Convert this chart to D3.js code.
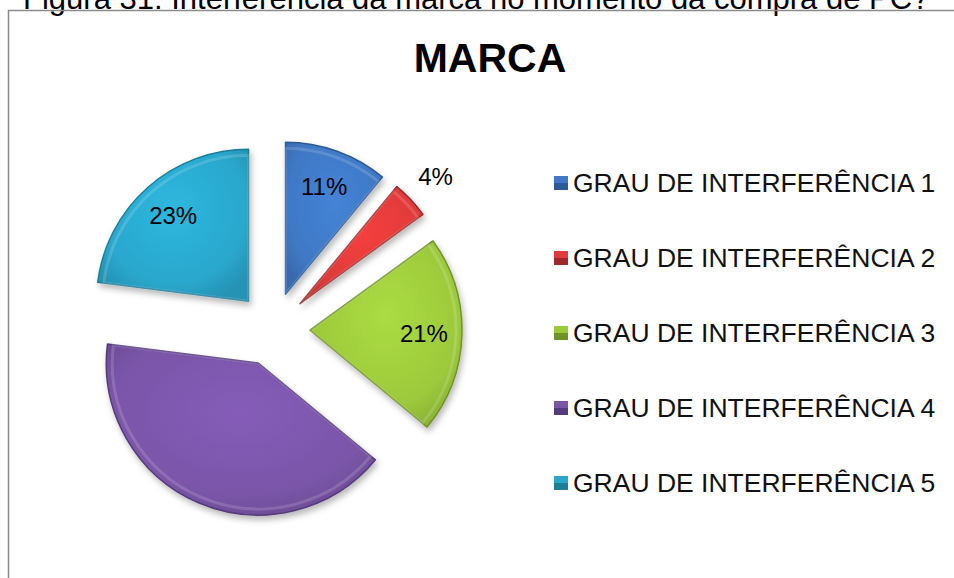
<!DOCTYPE html>
<html lang="pt">
<head>
    <meta charset="UTF-8">
    <title>MARCA</title>
    <style>
        body { margin: 0; background: #fff; }
        text { font-family: "Liberation Sans", Arial, sans-serif; }
    </style>
</head>
<body>
    <script src="https://d3js.org/d3.v7.min.js"></script>
    <script>
        // dados
        let categories = ["GRAU DE INTERFERÊNCIA 1", "GRAU DE INTERFERÊNCIA 2", "GRAU DE INTERFERÊNCIA 3",
                          "GRAU DE INTERFERÊNCIA 4", "GRAU DE INTERFERÊNCIA 5"];
        let values = [11, 4, 21, 41, 23];
        let labels = ["11%", "4%", "21%", "", "23%"];
        let colors = ["#3f78c4", "#e03a3a", "#9cc93c", "#7a55a8", "#2aa7cc"];
        let edgeColors = ["#2d5a96", "#9c2a2a", "#6f9226", "#553a7c", "#1d7d9a"];

        let width = 954, height = 578;
        let cx = 273, cy = 329, radius = 152, explode = 37;

        let svg = d3.select("body").append("svg")
            .attr("width", width)
            .attr("height", height);

        let defs = svg.append("defs");

        let shadow = defs.append("filter").attr("id", "shadow")
            .attr("x", "-20%").attr("y", "-20%").attr("width", "140%").attr("height", "140%");
        shadow.append("feDropShadow")
            .attr("dx", 2).attr("dy", 4).attr("stdDeviation", 3)
            .attr("flood-color", "#000").attr("flood-opacity", 0.28);

        colors.forEach(function(c, i){
            let g = defs.append("radialGradient").attr("id", "grad" + i)
                .attr("cx", "50%").attr("cy", "40%").attr("r", "65%");
            g.append("stop").attr("offset", "0%").attr("stop-color", d3.color(c).brighter(0.25));
            g.append("stop").attr("offset", "75%").attr("stop-color", c);
            g.append("stop").attr("offset", "100%").attr("stop-color", d3.color(c).darker(0.35));
        });

        // caption above the frame (cut off at the top, as in the original page)
        svg.append("text")
            .attr("x", 23).attr("y", 9)
            .attr("font-size", 31)
            .attr("fill", "#000")
            .text("Figura 31: Interferência da marca no momento da compra de PC?");

        // frame
        svg.append("rect")
            .attr("x", 8.5).attr("y", 10.5)
            .attr("width", 1000).attr("height", 1000)
            .attr("fill", "none")
            .attr("stroke", "#8c8c8c")
            .attr("stroke-width", 1.5);

        svg.append("text")
            .attr("x", 490).attr("y", 72)
            .attr("text-anchor", "middle")
            .attr("font-size", 41)
            .attr("font-weight", "bold")
            .text("MARCA");

        let pie = d3.pie().sort(null).value(function(d){ return d; });
        let arcs = pie(values);
        let arc = d3.arc().innerRadius(0).outerRadius(radius);

        function offset(d, dist){
            let a = (d.startAngle + d.endAngle) / 2;
            return [Math.sin(a) * dist, -Math.cos(a) * dist];
        }

        let pieG = svg.append("g").attr("transform", "translate(" + cx + "," + cy + ")");

        let slices = pieG.selectAll("g.slice").data(arcs).enter().append("g")
            .attr("class", "slice")
            .attr("transform", function(d){
                let o = offset(d, explode);
                return "translate(" + o[0] + "," + o[1] + ")";
            });

        slices.append("path")
            .attr("d", arc)
            .attr("fill", function(d, i){ return "url(#grad" + i + ")"; })
            .attr("stroke", function(d, i){ return edgeColors[i]; })
            .attr("stroke-width", 1.5)
            .attr("stroke-linejoin", "round")
            .attr("filter", "url(#shadow)");

        // inner bevel highlight
        slices.append("path")
            .attr("d", d3.arc().innerRadius(0).outerRadius(radius - 6))
            .attr("fill", "none")
            .attr("stroke", "#fff")
            .attr("stroke-opacity", 0.15)
            .attr("stroke-width", 3);

        slices.append("text")
            .attr("transform", function(d){
                let dist = (d.endAngle - d.startAngle) < 0.3 ? radius + 34 : radius * 0.75;
                let o = offset(d, dist);
                return "translate(" + o[0] + "," + o[1] + ")";
            })
            .attr("text-anchor", "middle")
            .attr("dominant-baseline", "central")
            .attr("font-size", 24)
            .attr("fill", "#000")
            .text(function(d, i){ return labels[i]; });

        // legend
        let legend = svg.selectAll("g.legend").data(categories).enter().append("g")
            .attr("class", "legend")
            .attr("transform", function(d, i){ return "translate(554," + (183 + i * 75) + ")"; });

        legend.append("rect")
            .attr("x", 0).attr("y", -7)
            .attr("width", 14).attr("height", 14)
            .attr("fill", function(d, i){ return colors[i]; });

        legend.append("rect")
            .attr("x", 0).attr("y", 0)
            .attr("width", 14).attr("height", 7)
            .attr("fill", function(d, i){ return edgeColors[i]; });

        legend.append("text")
            .attr("x", 19).attr("y", 0)
            .attr("dominant-baseline", "central")
            .attr("font-size", 26.5)
            .attr("fill", "#111")
            .text(function(d){ return d; });
    </script>
</body>
</html>
